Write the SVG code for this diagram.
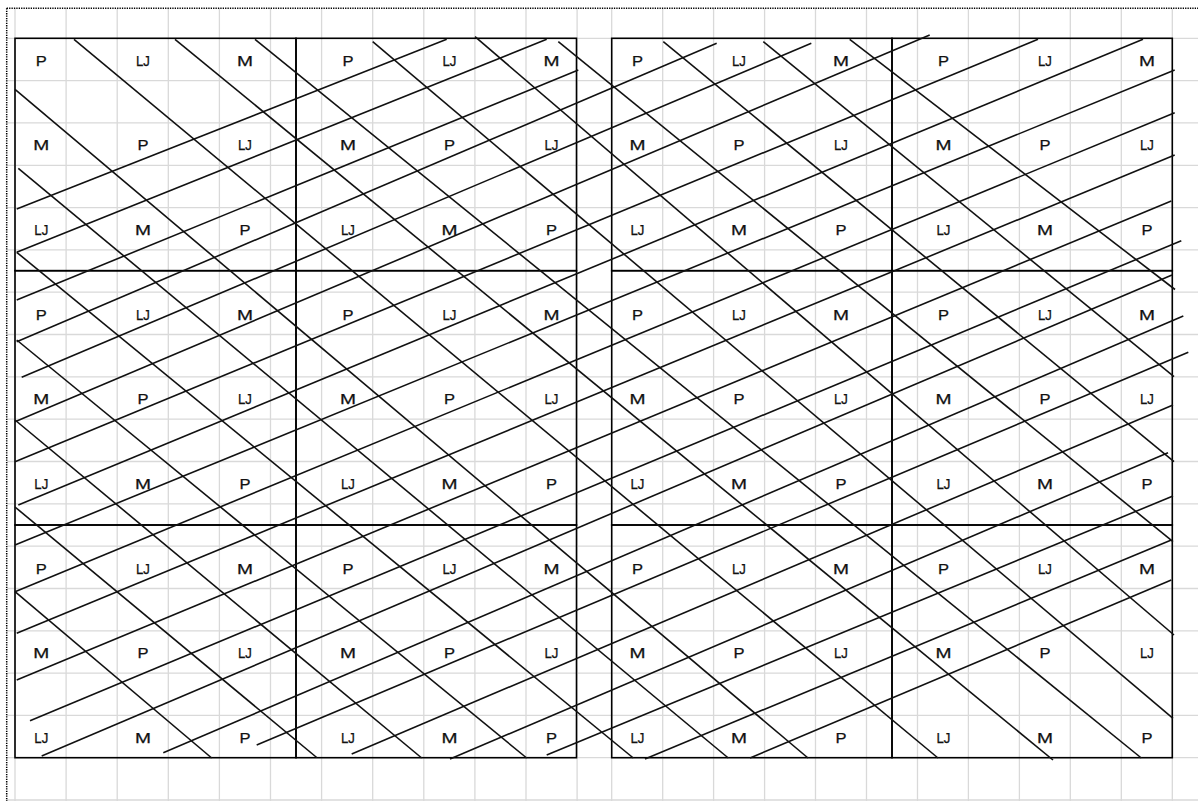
<svg xmlns="http://www.w3.org/2000/svg" width="1198" height="801" viewBox="0 0 1198 801">
<style>
.g{stroke:#d9d9d9;stroke-width:1.3}
.d{stroke:#000;stroke-width:1.5;stroke-dasharray:1.3 1.1}
.b{fill:none;stroke:#000;stroke-width:1.6}
.l{stroke:#111;stroke-width:1.6}
text{font-family:"Liberation Sans",Arial,sans-serif;font-size:14.5px;fill:#111;stroke:#111;stroke-width:0.25}
</style>
<rect width="1198" height="801" fill="#fff"/>
<g id="grid">
<line class="g" x1="15" y1="8.3" x2="15" y2="801"/><line class="g" x1="66.1" y1="8.3" x2="66.1" y2="801"/><line class="g" x1="117.2" y1="8.3" x2="117.2" y2="801"/><line class="g" x1="168.3" y1="8.3" x2="168.3" y2="801"/><line class="g" x1="219.4" y1="8.3" x2="219.4" y2="801"/><line class="g" x1="270.5" y1="8.3" x2="270.5" y2="801"/><line class="g" x1="321.6" y1="8.3" x2="321.6" y2="801"/><line class="g" x1="372.7" y1="8.3" x2="372.7" y2="801"/><line class="g" x1="423.8" y1="8.3" x2="423.8" y2="801"/><line class="g" x1="474.9" y1="8.3" x2="474.9" y2="801"/><line class="g" x1="526" y1="8.3" x2="526" y2="801"/><line class="g" x1="577.1" y1="8.3" x2="577.1" y2="801"/>
<line class="g" x1="611.7" y1="8.3" x2="611.7" y2="801"/><line class="g" x1="662.7" y1="8.3" x2="662.7" y2="801"/><line class="g" x1="713.6" y1="8.3" x2="713.6" y2="801"/><line class="g" x1="764.6" y1="8.3" x2="764.6" y2="801"/><line class="g" x1="815.5" y1="8.3" x2="815.5" y2="801"/><line class="g" x1="866.5" y1="8.3" x2="866.5" y2="801"/><line class="g" x1="917.5" y1="8.3" x2="917.5" y2="801"/><line class="g" x1="968.4" y1="8.3" x2="968.4" y2="801"/><line class="g" x1="1019.4" y1="8.3" x2="1019.4" y2="801"/><line class="g" x1="1070.3" y1="8.3" x2="1070.3" y2="801"/><line class="g" x1="1121.3" y1="8.3" x2="1121.3" y2="801"/><line class="g" x1="1172.3" y1="8.3" x2="1172.3" y2="801"/>
<line class="g" x1="6.7" y1="38.3" x2="1198" y2="38.3"/><line class="g" x1="6.7" y1="80.6" x2="1198" y2="80.6"/><line class="g" x1="6.7" y1="122.9" x2="1198" y2="122.9"/><line class="g" x1="6.7" y1="165.3" x2="1198" y2="165.3"/><line class="g" x1="6.7" y1="207.6" x2="1198" y2="207.6"/><line class="g" x1="6.7" y1="249.9" x2="1198" y2="249.9"/><line class="g" x1="6.7" y1="292.2" x2="1198" y2="292.2"/><line class="g" x1="6.7" y1="334.5" x2="1198" y2="334.5"/><line class="g" x1="6.7" y1="376.9" x2="1198" y2="376.9"/><line class="g" x1="6.7" y1="419.2" x2="1198" y2="419.2"/><line class="g" x1="6.7" y1="461.5" x2="1198" y2="461.5"/><line class="g" x1="6.7" y1="503.8" x2="1198" y2="503.8"/><line class="g" x1="6.7" y1="546.1" x2="1198" y2="546.1"/><line class="g" x1="6.7" y1="588.5" x2="1198" y2="588.5"/><line class="g" x1="6.7" y1="630.8" x2="1198" y2="630.8"/><line class="g" x1="6.7" y1="673.1" x2="1198" y2="673.1"/><line class="g" x1="6.7" y1="715.4" x2="1198" y2="715.4"/><line class="g" x1="6.7" y1="757.7" x2="1198" y2="757.7"/><line class="g" x1="6.7" y1="800" x2="1198" y2="800"/>
<line class="d" x1="6.7" y1="8.3" x2="1198" y2="8.3"/><line class="d" x1="6.7" y1="8.3" x2="6.7" y2="801"/>
</g>
<g id="blocks">
<rect id="b11" class="b" x="15" y="38.3" width="281" height="232.4"/><rect id="b12" class="b" x="296" y="38.3" width="280.5" height="232.4"/><rect id="b13" class="b" x="611.7" y="38.3" width="280.3" height="232.4"/><rect id="b14" class="b" x="892" y="38.3" width="280.3" height="232.4"/>
<rect id="b21" class="b" x="15" y="270.7" width="281" height="254.3"/><rect id="b22" class="b" x="296" y="270.7" width="280.5" height="254.3"/><rect id="b23" class="b" x="611.7" y="270.7" width="280.3" height="254.3"/><rect id="b24" class="b" x="892" y="270.7" width="280.3" height="254.3"/>
<rect id="b31" class="b" x="15" y="525" width="281" height="232.7"/><rect id="b32" class="b" x="296" y="525" width="280.5" height="232.7"/><rect id="b33" class="b" x="611.7" y="525" width="280.3" height="232.7"/><rect id="b34" class="b" x="892" y="525" width="280.3" height="232.7"/>
</g>
<g id="connectors">
<line class="l" x1="15" y1="591.7" x2="211.7" y2="758"/><line class="l" x1="15" y1="507" x2="316.7" y2="757.5"/><line class="l" x1="15" y1="420" x2="421.7" y2="758"/><line class="l" x1="16.7" y1="340" x2="526.7" y2="758"/><line class="l" x1="16.7" y1="252.3" x2="633.3" y2="758"/><line class="l" x1="18.3" y1="168.3" x2="728.3" y2="758"/><line class="l" x1="15" y1="89.3" x2="808" y2="758"/><line class="l" x1="74" y1="39.3" x2="938" y2="758"/><line class="l" x1="175" y1="39.3" x2="1053" y2="760"/><line class="l" x1="255" y1="39.3" x2="1141.3" y2="758"/><line class="l" x1="372.7" y1="41.7" x2="1173" y2="718.3"/><line class="l" x1="475" y1="36.7" x2="1174" y2="635"/><line class="l" x1="558.3" y1="41.7" x2="1173" y2="541.7"/><line class="l" x1="663.3" y1="41.7" x2="1174" y2="461.7"/><line class="l" x1="763.3" y1="41.7" x2="1174" y2="376.7"/><line class="l" x1="849.7" y1="39.3" x2="1175" y2="289.5"/>
<line class="l" x1="16.7" y1="209" x2="446.7" y2="39.3"/><line class="l" x1="16.7" y1="252.3" x2="546.7" y2="39.3"/><line class="l" x1="16.7" y1="300" x2="578.3" y2="70"/><line class="l" x1="16.7" y1="341.7" x2="716.7" y2="43.3"/><line class="l" x1="21.7" y1="377.3" x2="811.3" y2="43.3"/><line class="l" x1="15" y1="421.7" x2="929.7" y2="35"/><line class="l" x1="15" y1="461.7" x2="1038" y2="39.3"/><line class="l" x1="18.3" y1="505" x2="1143" y2="39.3"/><line class="l" x1="15" y1="545" x2="1174.7" y2="70"/><line class="l" x1="15" y1="591.7" x2="1174.7" y2="112.7"/><line class="l" x1="16.7" y1="633.3" x2="1174.7" y2="155"/><line class="l" x1="16.7" y1="680" x2="1171.3" y2="201"/><line class="l" x1="30" y1="720.7" x2="1181.3" y2="240.7"/><line class="l" x1="41.7" y1="756" x2="1172" y2="275"/><line class="l" x1="163.3" y1="752.7" x2="1183.3" y2="316"/><line class="l" x1="256.7" y1="745" x2="1188.3" y2="352.3"/><line class="l" x1="351.7" y1="754" x2="1173" y2="405"/><line class="l" x1="450" y1="759" x2="1168" y2="452.7"/><line class="l" x1="546.7" y1="755" x2="1173" y2="496"/><line class="l" x1="645" y1="759" x2="1171.3" y2="540"/><line class="l" x1="750" y1="758" x2="1171.3" y2="580"/>
</g>
<g id="letters">
<g id="row1"><text x="35.8" y="65.5" textLength="11" lengthAdjust="spacingAndGlyphs">P</text><text x="136" y="65.5" textLength="14" lengthAdjust="spacingAndGlyphs">LJ</text><text x="237" y="65.5" textLength="16" lengthAdjust="spacingAndGlyphs">M</text><text x="342.5" y="65.5" textLength="11" lengthAdjust="spacingAndGlyphs">P</text><text x="442.5" y="65.5" textLength="14" lengthAdjust="spacingAndGlyphs">LJ</text><text x="543.5" y="65.5" textLength="16" lengthAdjust="spacingAndGlyphs">M</text><text x="632" y="65.5" textLength="11" lengthAdjust="spacingAndGlyphs">P</text><text x="732" y="65.5" textLength="14" lengthAdjust="spacingAndGlyphs">LJ</text><text x="833" y="65.5" textLength="16" lengthAdjust="spacingAndGlyphs">M</text><text x="938" y="65.5" textLength="11" lengthAdjust="spacingAndGlyphs">P</text><text x="1038" y="65.5" textLength="14" lengthAdjust="spacingAndGlyphs">LJ</text><text x="1139" y="65.5" textLength="16" lengthAdjust="spacingAndGlyphs">M</text></g>
<g id="row2"><text x="33.3" y="150.2" textLength="16" lengthAdjust="spacingAndGlyphs">M</text><text x="137.5" y="150.2" textLength="11" lengthAdjust="spacingAndGlyphs">P</text><text x="238" y="150.2" textLength="14" lengthAdjust="spacingAndGlyphs">LJ</text><text x="340" y="150.2" textLength="16" lengthAdjust="spacingAndGlyphs">M</text><text x="444" y="150.2" textLength="11" lengthAdjust="spacingAndGlyphs">P</text><text x="544.5" y="150.2" textLength="14" lengthAdjust="spacingAndGlyphs">LJ</text><text x="629.5" y="150.2" textLength="16" lengthAdjust="spacingAndGlyphs">M</text><text x="733.5" y="150.2" textLength="11" lengthAdjust="spacingAndGlyphs">P</text><text x="834" y="150.2" textLength="14" lengthAdjust="spacingAndGlyphs">LJ</text><text x="935.5" y="150.2" textLength="16" lengthAdjust="spacingAndGlyphs">M</text><text x="1039.5" y="150.2" textLength="11" lengthAdjust="spacingAndGlyphs">P</text><text x="1140" y="150.2" textLength="14" lengthAdjust="spacingAndGlyphs">LJ</text></g>
<g id="row3"><text x="34.3" y="234.9" textLength="14" lengthAdjust="spacingAndGlyphs">LJ</text><text x="135" y="234.9" textLength="16" lengthAdjust="spacingAndGlyphs">M</text><text x="239.5" y="234.9" textLength="11" lengthAdjust="spacingAndGlyphs">P</text><text x="341" y="234.9" textLength="14" lengthAdjust="spacingAndGlyphs">LJ</text><text x="441.5" y="234.9" textLength="16" lengthAdjust="spacingAndGlyphs">M</text><text x="546" y="234.9" textLength="11" lengthAdjust="spacingAndGlyphs">P</text><text x="630.5" y="234.9" textLength="14" lengthAdjust="spacingAndGlyphs">LJ</text><text x="731" y="234.9" textLength="16" lengthAdjust="spacingAndGlyphs">M</text><text x="835.5" y="234.9" textLength="11" lengthAdjust="spacingAndGlyphs">P</text><text x="936.5" y="234.9" textLength="14" lengthAdjust="spacingAndGlyphs">LJ</text><text x="1037" y="234.9" textLength="16" lengthAdjust="spacingAndGlyphs">M</text><text x="1141.5" y="234.9" textLength="11" lengthAdjust="spacingAndGlyphs">P</text></g>
<g id="row4"><text x="35.8" y="319.6" textLength="11" lengthAdjust="spacingAndGlyphs">P</text><text x="136" y="319.6" textLength="14" lengthAdjust="spacingAndGlyphs">LJ</text><text x="237" y="319.6" textLength="16" lengthAdjust="spacingAndGlyphs">M</text><text x="342.5" y="319.6" textLength="11" lengthAdjust="spacingAndGlyphs">P</text><text x="442.5" y="319.6" textLength="14" lengthAdjust="spacingAndGlyphs">LJ</text><text x="543.5" y="319.6" textLength="16" lengthAdjust="spacingAndGlyphs">M</text><text x="632" y="319.6" textLength="11" lengthAdjust="spacingAndGlyphs">P</text><text x="732" y="319.6" textLength="14" lengthAdjust="spacingAndGlyphs">LJ</text><text x="833" y="319.6" textLength="16" lengthAdjust="spacingAndGlyphs">M</text><text x="938" y="319.6" textLength="11" lengthAdjust="spacingAndGlyphs">P</text><text x="1038" y="319.6" textLength="14" lengthAdjust="spacingAndGlyphs">LJ</text><text x="1139" y="319.6" textLength="16" lengthAdjust="spacingAndGlyphs">M</text></g>
<g id="row5"><text x="33.3" y="404.3" textLength="16" lengthAdjust="spacingAndGlyphs">M</text><text x="137.5" y="404.3" textLength="11" lengthAdjust="spacingAndGlyphs">P</text><text x="238" y="404.3" textLength="14" lengthAdjust="spacingAndGlyphs">LJ</text><text x="340" y="404.3" textLength="16" lengthAdjust="spacingAndGlyphs">M</text><text x="444" y="404.3" textLength="11" lengthAdjust="spacingAndGlyphs">P</text><text x="544.5" y="404.3" textLength="14" lengthAdjust="spacingAndGlyphs">LJ</text><text x="629.5" y="404.3" textLength="16" lengthAdjust="spacingAndGlyphs">M</text><text x="733.5" y="404.3" textLength="11" lengthAdjust="spacingAndGlyphs">P</text><text x="834" y="404.3" textLength="14" lengthAdjust="spacingAndGlyphs">LJ</text><text x="935.5" y="404.3" textLength="16" lengthAdjust="spacingAndGlyphs">M</text><text x="1039.5" y="404.3" textLength="11" lengthAdjust="spacingAndGlyphs">P</text><text x="1140" y="404.3" textLength="14" lengthAdjust="spacingAndGlyphs">LJ</text></g>
<g id="row6"><text x="34.3" y="489" textLength="14" lengthAdjust="spacingAndGlyphs">LJ</text><text x="135" y="489" textLength="16" lengthAdjust="spacingAndGlyphs">M</text><text x="239.5" y="489" textLength="11" lengthAdjust="spacingAndGlyphs">P</text><text x="341" y="489" textLength="14" lengthAdjust="spacingAndGlyphs">LJ</text><text x="441.5" y="489" textLength="16" lengthAdjust="spacingAndGlyphs">M</text><text x="546" y="489" textLength="11" lengthAdjust="spacingAndGlyphs">P</text><text x="630.5" y="489" textLength="14" lengthAdjust="spacingAndGlyphs">LJ</text><text x="731" y="489" textLength="16" lengthAdjust="spacingAndGlyphs">M</text><text x="835.5" y="489" textLength="11" lengthAdjust="spacingAndGlyphs">P</text><text x="936.5" y="489" textLength="14" lengthAdjust="spacingAndGlyphs">LJ</text><text x="1037" y="489" textLength="16" lengthAdjust="spacingAndGlyphs">M</text><text x="1141.5" y="489" textLength="11" lengthAdjust="spacingAndGlyphs">P</text></g>
<g id="row7"><text x="35.8" y="573.7" textLength="11" lengthAdjust="spacingAndGlyphs">P</text><text x="136" y="573.7" textLength="14" lengthAdjust="spacingAndGlyphs">LJ</text><text x="237" y="573.7" textLength="16" lengthAdjust="spacingAndGlyphs">M</text><text x="342.5" y="573.7" textLength="11" lengthAdjust="spacingAndGlyphs">P</text><text x="442.5" y="573.7" textLength="14" lengthAdjust="spacingAndGlyphs">LJ</text><text x="543.5" y="573.7" textLength="16" lengthAdjust="spacingAndGlyphs">M</text><text x="632" y="573.7" textLength="11" lengthAdjust="spacingAndGlyphs">P</text><text x="732" y="573.7" textLength="14" lengthAdjust="spacingAndGlyphs">LJ</text><text x="833" y="573.7" textLength="16" lengthAdjust="spacingAndGlyphs">M</text><text x="938" y="573.7" textLength="11" lengthAdjust="spacingAndGlyphs">P</text><text x="1038" y="573.7" textLength="14" lengthAdjust="spacingAndGlyphs">LJ</text><text x="1139" y="573.7" textLength="16" lengthAdjust="spacingAndGlyphs">M</text></g>
<g id="row8"><text x="33.3" y="658.4" textLength="16" lengthAdjust="spacingAndGlyphs">M</text><text x="137.5" y="658.4" textLength="11" lengthAdjust="spacingAndGlyphs">P</text><text x="238" y="658.4" textLength="14" lengthAdjust="spacingAndGlyphs">LJ</text><text x="340" y="658.4" textLength="16" lengthAdjust="spacingAndGlyphs">M</text><text x="444" y="658.4" textLength="11" lengthAdjust="spacingAndGlyphs">P</text><text x="544.5" y="658.4" textLength="14" lengthAdjust="spacingAndGlyphs">LJ</text><text x="629.5" y="658.4" textLength="16" lengthAdjust="spacingAndGlyphs">M</text><text x="733.5" y="658.4" textLength="11" lengthAdjust="spacingAndGlyphs">P</text><text x="834" y="658.4" textLength="14" lengthAdjust="spacingAndGlyphs">LJ</text><text x="935.5" y="658.4" textLength="16" lengthAdjust="spacingAndGlyphs">M</text><text x="1039.5" y="658.4" textLength="11" lengthAdjust="spacingAndGlyphs">P</text><text x="1140" y="658.4" textLength="14" lengthAdjust="spacingAndGlyphs">LJ</text></g>
<g id="row9"><text x="34.3" y="743.1" textLength="14" lengthAdjust="spacingAndGlyphs">LJ</text><text x="135" y="743.1" textLength="16" lengthAdjust="spacingAndGlyphs">M</text><text x="239.5" y="743.1" textLength="11" lengthAdjust="spacingAndGlyphs">P</text><text x="341" y="743.1" textLength="14" lengthAdjust="spacingAndGlyphs">LJ</text><text x="441.5" y="743.1" textLength="16" lengthAdjust="spacingAndGlyphs">M</text><text x="546" y="743.1" textLength="11" lengthAdjust="spacingAndGlyphs">P</text><text x="630.5" y="743.1" textLength="14" lengthAdjust="spacingAndGlyphs">LJ</text><text x="731" y="743.1" textLength="16" lengthAdjust="spacingAndGlyphs">M</text><text x="835.5" y="743.1" textLength="11" lengthAdjust="spacingAndGlyphs">P</text><text x="936.5" y="743.1" textLength="14" lengthAdjust="spacingAndGlyphs">LJ</text><text x="1037" y="743.1" textLength="16" lengthAdjust="spacingAndGlyphs">M</text><text x="1141.5" y="743.1" textLength="11" lengthAdjust="spacingAndGlyphs">P</text></g>
</g>
</svg>
